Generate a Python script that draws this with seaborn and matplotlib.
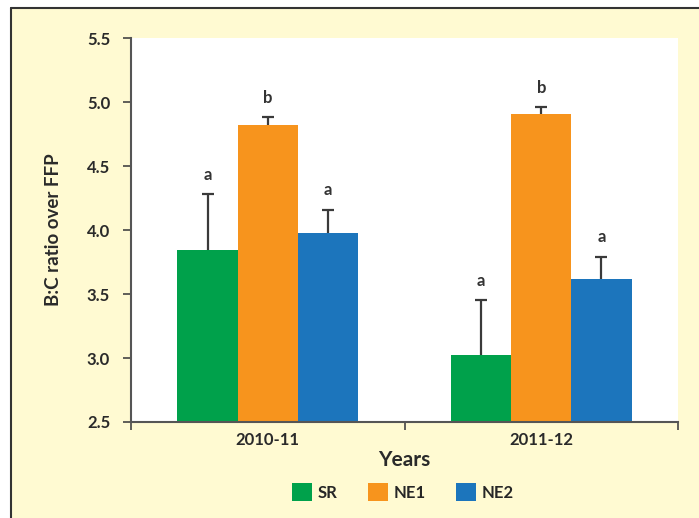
import matplotlib
matplotlib.use("Agg")
import matplotlib.pyplot as plt
import seaborn as sns
import pandas as pd
from matplotlib.patches import Rectangle
from matplotlib.lines import Line2D

years = ["2010-11", "2011-12"]
treatments = ["SR", "NE1", "NE2"]
sr_vals = [3.84, 3.02]
ne1_vals = [4.82, 4.91]
ne2_vals = [3.98, 3.62]
sr_err = [0.44, 0.43]
ne1_err = [0.06, 0.05]
ne2_err = [0.18, 0.17]
sr_letters = ["a", "a"]
ne1_letters = ["b", "b"]
ne2_letters = ["a", "a"]
colors = ["#00A14B", "#F7941D", "#1C75BC"]
yticks = [2.5, 3.0, 3.5, 4.0, 4.5, 5.0, 5.5]

rows = []
for t, vals, errs, lets in zip(treatments, [sr_vals, ne1_vals, ne2_vals],
                               [sr_err, ne1_err, ne2_err],
                               [sr_letters, ne1_letters, ne2_letters]):
    for y, v, e, l in zip(years, vals, errs, lets):
        rows.append({"Year": y, "Treatment": t, "Value": v, "Err": e, "Letter": l})
df = pd.DataFrame(rows)

sns.set_style("white")
plt.rcParams["font.family"] = ["Lato", "DejaVu Sans"]
plt.rcParams["font.weight"] = "bold"

bg = "#FFFAD2"
fig = plt.figure(figsize=(6.99, 5.18), dpi=100, facecolor=bg)
ax = fig.add_axes([131 / 699, 1 - 422 / 518, 547 / 699, 384 / 518])
ax.set_facecolor("white")

sns.barplot(data=df, x="Year", y="Value", hue="Treatment", order=years,
            hue_order=treatments, palette=colors, saturation=1, width=0.66,
            errorbar=None, ax=ax, legend=False, linewidth=0)

# error bars and letters, positioned from the bar patches
bars = [p for p in ax.patches if p.get_width() > 0]
for t_i, t in enumerate(treatments):
    for y_i, y in enumerate(years):
        p = bars[t_i * len(years) + y_i]
        row = df[(df.Treatment == t) & (df.Year == y)].iloc[0]
        xc = p.get_x() + p.get_width() / 2
        cont = ax.errorbar(xc, row.Value, yerr=[[0], [row.Err]], fmt="none",
                           ecolor="#3a3a3a", elinewidth=1.6, capsize=4.5,
                           capthick=1.6, zorder=3)
        caps = cont.lines[1]
        if len(caps) == 2:
            caps[0].set_visible(False)
        ax.text(xc, row.Value + row.Err + 0.09, row.Letter, ha="center",
                va="bottom", fontsize=12, fontweight="bold", color="#333333")

ax.set_ylim(2.5, 5.5)
ax.set_xlim(-0.5, 1.5)
ax.set_yticks(yticks)
ax.set_yticklabels([f"{v:.1f}" for v in yticks], fontsize=12, fontweight="bold",
                   color="#2a2a2a")
ax.set_xticks([0, 1])
ax.set_xticklabels(years, fontsize=12, fontweight="bold", color="#2a2a2a")
ax.tick_params(axis="x", length=0, pad=7)
ax.tick_params(axis="y", length=6, width=1.2, color="#444444", direction="out",
               pad=9, left=True)
ax.set_xticks([-0.5, 0.5, 1.5], minor=True)
ax.tick_params(axis="x", which="minor", length=6, width=1.2, color="#444444",
               direction="out", bottom=True)

for s in ["top", "right"]:
    ax.spines[s].set_visible(False)
for s in ["left", "bottom"]:
    ax.spines[s].set_color("#555555")
    ax.spines[s].set_linewidth(1.5)

ax.set_xlabel("Years", fontsize=15, fontweight="bold", color="#2a2a2a", labelpad=2)
ax.set_ylabel("B:C ratio over FFP", fontsize=13.5, fontweight="bold",
              color="#2a2a2a", labelpad=18)

handles = [Rectangle((0, 0), 1, 1, facecolor=c, edgecolor="none") for c in colors]
fig.legend(handles, treatments, loc="center", bbox_to_anchor=(403 / 699, 1 - 492 / 518),
           ncol=3, frameon=False, handlelength=1.2, handleheight=1.2,
           columnspacing=1.8, handletextpad=0.35, prop={"weight": "bold", "size": 12})

# outer frame lines (top and left)
fig.add_artist(Line2D([11 / 699, 1], [1 - 8 / 518, 1 - 8 / 518],
                      transform=fig.transFigure, color="#333333", linewidth=1.5))
fig.add_artist(Line2D([11 / 699, 11 / 699], [0, 1 - 8 / 518],
                      transform=fig.transFigure, color="#333333", linewidth=1.5))
fig.add_artist(Rectangle((0, 1 - 8 / 518), 1, 8 / 518, transform=fig.transFigure,
                         facecolor="white", edgecolor="none", zorder=-1))
fig.add_artist(Rectangle((0, 0), 11 / 699, 1, transform=fig.transFigure,
                         facecolor="white", edgecolor="none", zorder=-1))

fig.savefig("out.png", dpi=100, facecolor=bg)
